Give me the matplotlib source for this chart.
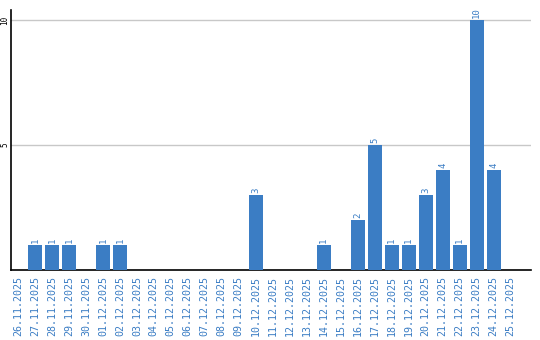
import matplotlib
matplotlib.use("Agg")
import matplotlib.pyplot as plt

dates = ["26.11.2025", "27.11.2025", "28.11.2025", "29.11.2025", "30.11.2025",
         "01.12.2025", "02.12.2025", "03.12.2025", "04.12.2025", "05.12.2025",
         "06.12.2025", "07.12.2025", "08.12.2025", "09.12.2025", "10.12.2025",
         "11.12.2025", "12.12.2025", "13.12.2025", "14.12.2025", "15.12.2025",
         "16.12.2025", "17.12.2025", "18.12.2025", "19.12.2025", "20.12.2025",
         "21.12.2025", "22.12.2025", "23.12.2025", "24.12.2025", "25.12.2025"]
values = [0, 1, 1, 1, 0, 1, 1, 0, 0, 0, 0, 0, 0, 0, 3, 0, 0, 0, 1, 0,
          2, 5, 1, 1, 3, 4, 1, 10, 4, 0]
yticks = [5, 10]

blue = "#3b7dc4"
fig = plt.figure(figsize=(5.4, 3.4), dpi=100)
ax = fig.add_axes([11/540, 70/340, 520/540, 260/340])
x = list(range(len(dates)))
ax.bar(x, values, width=0.82, color=blue, zorder=3)
for xi, v in zip(x, values):
    if v > 0:
        ax.text(xi, v + 0.08, str(v), rotation=90, ha="center", va="bottom",
                color=blue, fontsize=6.5, family="DejaVu Sans Mono")
ax.set_xlim(-0.41, 30.2)
ax.set_ylim(0, 10.4)
ax.set_xticks(x)
ax.set_xticklabels(dates, rotation=90, color=blue, fontsize=7.2, family="DejaVu Sans Mono")
ax.set_yticks(yticks)
ax.set_yticklabels([str(t) for t in yticks], rotation=90, fontsize=5.5, family="DejaVu Sans Mono",
                   va="center")
ax.tick_params(length=0)
ax.tick_params(axis="y", pad=1)
ax.tick_params(axis="x", pad=4)
ax.grid(axis="y", color="#c8c8c8", linewidth=1, zorder=0)
for s in ["top", "right"]:
    ax.spines[s].set_visible(False)
for s in ["left", "bottom"]:
    ax.spines[s].set_color("black")
    ax.spines[s].set_linewidth(1.2)
fig.savefig("out.png", dpi=100)
